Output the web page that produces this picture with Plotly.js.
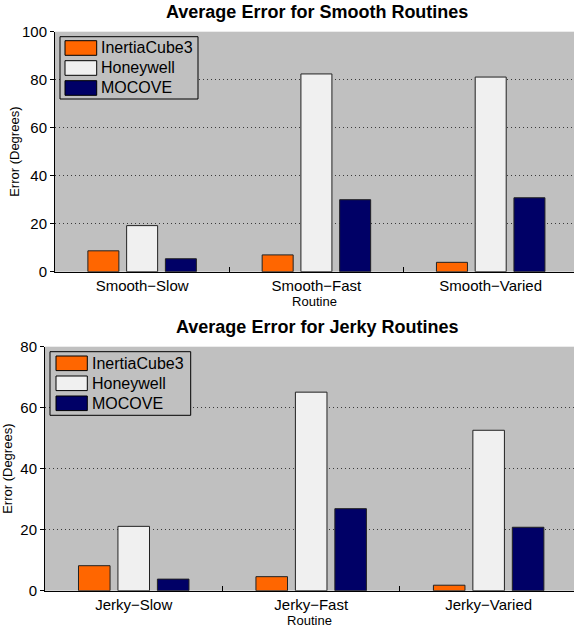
<!DOCTYPE html>
<html>
<head>
<meta charset="utf-8">
<script src="https://cdn.plot.ly/plotly-3.0.1.min.js"></script>
<style>html,body{margin:0;padding:0;background:#fff;}#chart{width:574px;height:628px;}</style>
</head>
<body>
<div id="chart"></div>
<script>
// ---- data ----
const seriesNames = ["InertiaCube3", "Honeywell", "MOCOVE"];
const smoothCategories = ["Smooth\u2212Slow", "Smooth\u2212Fast", "Smooth\u2212Varied"];
const jerkyCategories = ["Jerky\u2212Slow", "Jerky\u2212Fast", "Jerky\u2212Varied"];
const smoothInertiaCube3 = [8.7, 7.0, 3.9];
const smoothHoneywell = [19.2, 82.4, 81.1];
const smoothMOCOVE = [5.4, 30.0, 30.8];
const jerkyInertiaCube3 = [8.2, 4.6, 1.8];
const jerkyHoneywell = [21.1, 65.1, 52.6];
const jerkyMOCOVE = [3.8, 26.9, 20.8];
const smoothTitle = "Average Error for Smooth Routines";
const jerkyTitle = "Average Error for Jerky Routines";
const xTitle = "Routine";
const yTitle = "Error (Degrees)";

// ---- styles ----
const colors = ["#FF6600", "#F0F0F0", "#000066"];
const FONT = "Liberation Sans, Arial, Helvetica, sans-serif";
const W = 574, H = 628;
const px = v => v / W;          // pixel x -> paper
const py = v => (H - v) / H;    // pixel y (from top) -> paper

function bars(cats, vals, i, xa, ya) {
  return {
    type: "bar", x: cats, y: vals, name: seriesNames[i],
    xaxis: xa, yaxis: ya, showlegend: false,
    marker: {color: colors[i], line: {color: "#222", width: 1}},
    hoverinfo: "x+y"
  };
}

const traces = [
  bars(smoothCategories, smoothInertiaCube3, 0, "x", "y"),
  bars(smoothCategories, smoothHoneywell, 1, "x", "y"),
  bars(smoothCategories, smoothMOCOVE, 2, "x", "y"),
  bars(jerkyCategories, jerkyInertiaCube3, 0, "x2", "y2"),
  bars(jerkyCategories, jerkyHoneywell, 1, "x2", "y2"),
  bars(jerkyCategories, jerkyMOCOVE, 2, "x2", "y2")
];

const xCommon = {
  type: "category", showline: true, linecolor: "#000", linewidth: 1,
  ticks: "inside", tickson: "boundaries", ticklen: 5, tickcolor: "#000",
  showgrid: false, zeroline: false, fixedrange: true,
  tickfont: {family: FONT, size: 15, color: "#000"}
};
const yCommon = {
  showline: true, linecolor: "#000", linewidth: 1,
  ticks: "outside", ticklen: 4, tickcolor: "#000",
  showgrid: true, gridcolor: "#3a3a3a", griddash: "1px,3px", gridwidth: 1,
  zeroline: false, dtick: 20, fixedrange: true,
  tickfont: {family: FONT, size: 15, color: "#000"}
};

// manual legend boxes (pixel geometry of the reference)
const legendBoxes = [
  {left: 60, top: 36.7, right: 198, bottom: 99, swL: 65, swR: 96.7, textX: 99, rows: [48, 68, 88]},
  {left: 50, top: 351.7, right: 190.7, bottom: 415.3, swL: 56, swR: 87.3, textX: 89.5, rows: [363.3, 383.3, 403.3]}
];
const shapes = [];
const annotations = [];
legendBoxes.forEach(b => {
  shapes.push({type: "rect", xref: "paper", yref: "paper",
    x0: px(b.left), x1: px(b.right), y0: py(b.bottom), y1: py(b.top),
    fillcolor: "#C0C0C0", line: {color: "#000", width: 1}});
  b.rows.forEach((cy, i) => {
    shapes.push({type: "rect", xref: "paper", yref: "paper",
      x0: px(b.swL), x1: px(b.swR), y0: py(cy + 7.3), y1: py(cy - 7.3),
      fillcolor: colors[i], line: {color: "#000", width: 1}});
    annotations.push({text: seriesNames[i], xref: "paper", yref: "paper",
      x: px(b.textX), y: py(cy), xanchor: "left", yanchor: "middle",
      showarrow: false, font: {family: FONT, size: 16, color: "#000"}});
  });
});
annotations.push(
  {text: "<b>" + smoothTitle + "</b>", xref: "paper", yref: "paper",
   x: px(316.7), y: py(12), xanchor: "center", yanchor: "middle",
   showarrow: false, font: {family: FONT, size: 18, color: "#000"}},
  {text: "<b>" + jerkyTitle + "</b>", xref: "paper", yref: "paper",
   x: px(316.7), y: py(327), xanchor: "center", yanchor: "middle",
   showarrow: false, font: {family: FONT, size: 18, color: "#000"}}
);

const layout = {
  width: W, height: H,
  margin: {l: 0, r: 0, t: 0, b: 0},
  paper_bgcolor: "#fff", plot_bgcolor: "#C0C0C0",
  barmode: "group", bargap: 0.333, bargroupgap: 0.2,
  font: {family: FONT, color: "#000"},
  showlegend: false,
  xaxis: Object.assign({}, xCommon, {
    domain: [px(55), 1], anchor: "y", range: [-0.5, 2.478],
    title: {text: xTitle, font: {family: FONT, size: 13}, standoff: 1}
  }),
  yaxis: Object.assign({}, yCommon, {
    domain: [py(271.7), py(31.7)], anchor: "x", range: [0, 100],
    title: {text: yTitle, font: {family: FONT, size: 13}}
  }),
  xaxis2: Object.assign({}, xCommon, {
    domain: [px(45), 1], anchor: "y2", range: [-0.5, 2.481],
    title: {text: xTitle, font: {family: FONT, size: 13}, standoff: 1}
  }),
  yaxis2: Object.assign({}, yCommon, {
    domain: [py(590.7), py(346.7)], anchor: "x2", range: [0, 80],
    title: {text: yTitle, font: {family: FONT, size: 13}}
  }),
  shapes: shapes,
  annotations: annotations
};

Plotly.newPlot("chart", traces, layout, {displayModeBar: false, staticPlot: true});
</script>
</body>
</html>
